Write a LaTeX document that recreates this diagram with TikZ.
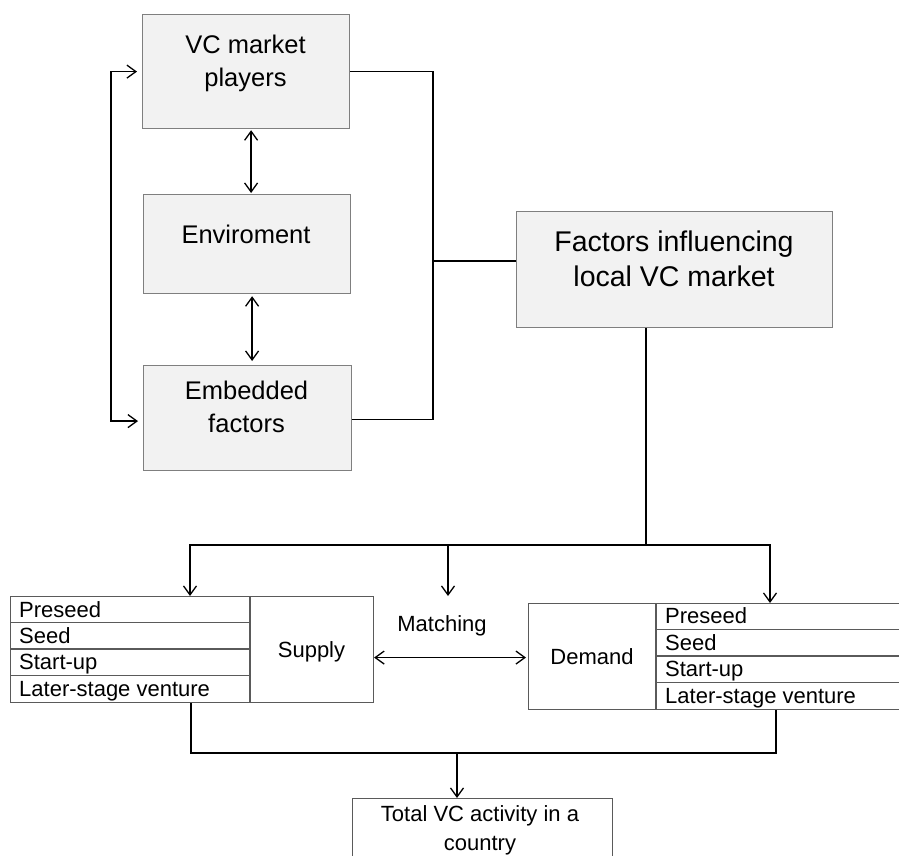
\documentclass[tikz,border=0pt]{standalone}
\usepackage{fontspec}
\setmainfont{Liberation Sans}
\usetikzlibrary{arrows.meta}
\definecolor{boxfill}{HTML}{F2F2F2}
\definecolor{boxline}{HTML}{7F7F7F}
\definecolor{cellline}{HTML}{5A5A5A}
\begin{document}
\begin{tikzpicture}[x=1pt,y=-1pt,
  panel/.style={draw=boxline, fill=boxfill, line width=1.2pt, inner sep=0pt, anchor=north west},
  tbl/.style={draw=cellline, fill=white, line width=1.1pt, inner sep=0pt, anchor=north west},
  cellrule/.style={draw=cellline, line width=1.1pt},
  bigtxt/.style={inner sep=0pt, align=center, font=\fontsize{25.5}{33}\selectfont},
  hugetxt/.style={inner sep=0pt, align=center, font=\fontsize{28.5}{35}\selectfont},
  smalltxt/.style={inner sep=0pt, align=center, font=\fontsize{22}{29}\selectfont},
  stage/.style={inner sep=0pt, anchor=base west, font=\fontsize{22}{26}\selectfont},
  conn/.style={draw=black, line width=1.4pt},
  >={Straight Barb[length=9pt,width=13pt,line width=1.3pt]}]
\useasboundingbox (0,0) rectangle (899,855);
\clip (0,0) rectangle (899,855);

% upper column of three boxes
\node[panel, minimum width=207pt, minimum height=114pt] (vc) at (142,14) {};
\node[bigtxt, anchor=north] (vctxt) at (245.5,34.5) {VC market\\players};
\node[panel, minimum width=207pt, minimum height=99pt] (env) at (143,194) {};
\node[bigtxt, anchor=base] (envtxt) at (246,243) {Enviroment};
\node[panel, minimum width=208pt, minimum height=105pt] (emb) at (143,365) {};
\node[bigtxt, anchor=north] (embtxt) at (246.5,380.5) {Embedded\\factors};

% central box
\node[panel, minimum width=316pt, minimum height=116pt] (fac) at (516,211) {};
\node[hugetxt, anchor=north] (factxt) at (674,231) {Factors influencing\\local VC market};

% supply table
\node[tbl, minimum width=363pt, minimum height=106pt] (sup) at (10,596) {};
\draw[cellrule] (250,596) -- (250,702);
\draw[cellrule] (10,622.5) -- (250,622.5);
\draw[cellrule] (10,649) -- (250,649);
\draw[cellrule] (10,675.5) -- (250,675.5);
\node[stage] (sup1) at (19,617) {Preseed};
\node[stage] (sup2) at (19,643) {Seed};
\node[stage] (sup3) at (19,669.5) {Start-up};
\node[stage] (sup4) at (19,696.5) {Later-stage venture};
\node[smalltxt, anchor=base] (suptxt) at (311.5,657) {Supply};

% demand table
\node[tbl, minimum width=380pt, minimum height=106pt] (dem) at (528,603) {};
\draw[cellrule] (656,603) -- (656,709);
\draw[cellrule] (656,629.5) -- (910,629.5);
\draw[cellrule] (656,656) -- (910,656);
\draw[cellrule] (656,682.5) -- (910,682.5);
\node[stage] (dem1) at (665,623.5) {Preseed};
\node[stage] (dem2) at (665,650) {Seed};
\node[stage] (dem3) at (665,676.5) {Start-up};
\node[stage] (dem4) at (665,703) {Later-stage venture};
\node[smalltxt, anchor=base] (demtxt) at (592,664) {Demand};

% matching label
\node[smalltxt, anchor=base] (match) at (442,631) {Matching};

% result box
\node[tbl, minimum width=260pt, minimum height=100pt] (tot) at (352,798) {};
\node[smalltxt, anchor=north] (tottxt) at (480,805) {Total VC activity in a\\country};

% junction points
\coordinate (jr) at (433,261);
\coordinate (split) at (646,545);
\coordinate (jm) at (448,545);
\coordinate (mtop) at (448,596);
\coordinate (jb) at (457,752);

% loop on the left
\draw[conn, <->, shorten <=5pt, shorten >=5pt] (vc.west) -- ++(-31,0) |- ([yshift=-3pt]emb.west);
% links between the stacked boxes
\draw[conn, <->, shorten <=1pt, shorten >=1pt] ([xshift=5pt]vc.south) -- ([xshift=5pt]vc.south |- env.north);
\draw[conn, <->, shorten <=2pt, shorten >=4pt] ([xshift=5pt]env.south) -- ([xshift=5pt]env.south |- emb.north);
% bracket into the central box
\draw[conn] (vc.east) -| (jr) |- ([yshift=-1.5pt]emb.east);
\draw[conn] (jr) -- (jr -| fac.west);
% split towards supply, matching and demand
\draw[conn] (fac.south -| split) -- (split);
\draw[conn, ->] (split) -| ([xshift=180pt]sup.north west);
\draw[conn, ->] (split) -| ([xshift=242pt]dem.north west);
\draw[conn, ->] (jm) -- (mtop);
% matching arrow
\draw[conn, <->, shorten >=2pt] ([yshift=-8pt]sup.east) -- ([yshift=-1pt]dem.west);
% merge into the result box
\draw[conn] ([xshift=181pt]sup.south west) -- ++(0,50) -| ([xshift=248pt]dem.south west);
\draw[conn, ->] (jb) -- (tot.north -| jb);
\end{tikzpicture}
\end{document}
